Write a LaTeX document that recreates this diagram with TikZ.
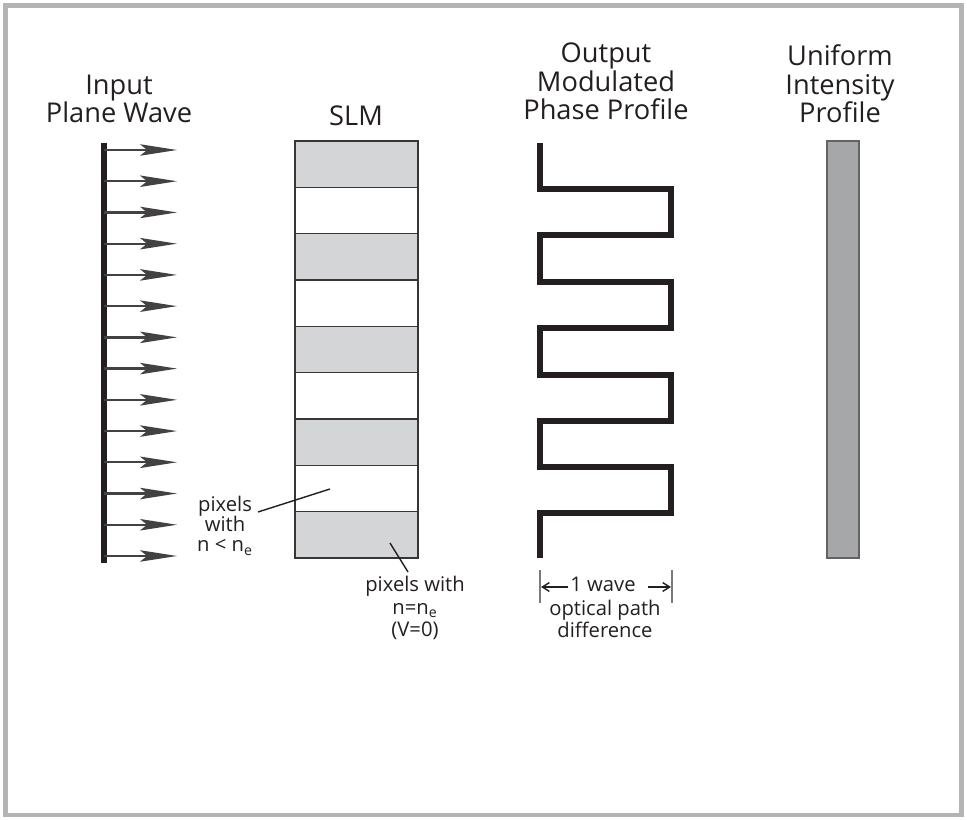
\documentclass[tikz,border=0pt]{standalone}
\usepackage{fontspec}
\setmainfont{Open Sans}
\usetikzlibrary{arrows.meta}

\definecolor{framegray}{HTML}{B4B3B5}
\definecolor{slmgray}{HTML}{D4D5D7}
\definecolor{bargray}{HTML}{A6A7A9}
\definecolor{ink}{HTML}{231F20}

\tikzset{
  title/.style={align=center,anchor=base,inner sep=0pt,text=ink,
    font=\fontsize{15.5}{16.3}\selectfont},
  note/.style={align=center,anchor=base,inner sep=0pt,text=ink,
    font=\fontsize{11.5}{11.5}\selectfont},
  ray/.style={draw=ink!85,line width=1.3pt,
    -{Stealth[length=21pt,width=6.5pt,inset=4pt]}},
  cell/.style={draw=ink!90,line width=0.9pt},
  wave/.style={draw=ink,line width=3.2pt,line join=miter},
  leader/.style={draw=ink,line width=0.8pt},
  tick/.style={draw=ink!60,line width=1.1pt},
  dim/.style={draw=ink,line width=0.8pt,-{Straight Barb[length=4pt,width=5pt]}}
}

\begin{document}
\begin{tikzpicture}[x=0.02cm,y=-0.02cm]

      \useasboundingbox (0,0) rectangle (967,820);
      \draw[framegray,line width=2.8pt] (5.5,5.5) rectangle (961.5,815);

      % titles (anchored at the last line)
      \node[title] (input)   at (119,123) {Input\\Plane Wave};
      \node[title] (slm)     at (356,126) {SLM};
      \node[title] (output)  at (606,120) {Output\\Modulated\\Phase Profile};
      \node[title] (uniform) at (840,123) {Uniform\\Intensity\\Profile};

      % input plane wave
      \coordinate (bartop) at (104,143);
      \coordinate (barbot) at (104,563);
      \draw[ink,line width=3.2pt] (bartop) -- (barbot);
      \foreach \i in {0,...,13} {
        \coordinate (ray\i) at (104,150+31.23*\i);
        \coordinate (tip\i) at (177,150+31.23*\i);
        \draw[ray] (ray\i) -- (tip\i);
      }

      % SLM pixels
      \foreach \i in {0,...,8} {
        \pgfmathsetmacro{\ytop}{141+46.33*\i}
        \ifodd\i
          \draw[cell,fill=white] (295,\ytop) rectangle (418,\ytop+46.33);
        \else
          \draw[cell,fill=slmgray] (295,\ytop) rectangle (418,\ytop+46.33);
        \fi
      }

      % phase profile
      \draw[wave] (540,143) |- (671,189) |- (540,235) |- (671,282)
        |- (540,328) |- (671,375) |- (540,421) |- (671,467)
        |- (540,513) -- (540,558);

      % uniform intensity
      \draw[draw=ink!70,line width=1.2pt,fill=bargray] (827,141) rectangle (859,558);

      % labels
      \node[note] (pixlow) at (225,552) {pixels\\with\\n < n\textsubscript{e}};
      \coordinate (lowfoot) at (258,512);
      \coordinate (lowtip)  at (330,489);
      \draw[leader] (lowfoot) -- (lowtip);

      \node[note,font=\fontsize{11.5}{13}\selectfont] (pixeq) at (415,637)
        {pixels with\\n=n\textsubscript{e}\\(V=0)};
      \coordinate (eqtip)  at (390,543);
      \coordinate (eqfoot) at (408,572);
      \draw[leader] (eqfoot) -- (eqtip);

      % one wave path difference
      \coordinate (tickLt) at (540,570);
      \coordinate (tickLb) at (540,603);
      \coordinate (tickRt) at (672,570);
      \coordinate (tickRb) at (672,603);
      \draw[tick] (tickLt) -- (tickLb);
      \draw[tick] (tickRt) -- (tickRb);
      \node[note] (onewave) at (603,592) {1 wave};
      \coordinate (dimL) at (541,587);
      \coordinate (dimR) at (671,587);
      \draw[dim] ([xshift=-1pt]onewave.west |- dimL) -- (dimL);
      \draw[dim] ([xshift=7pt]onewave.east |- dimR) -- (dimR);
      \node[note,font=\fontsize{11.5}{13}\selectfont] (opd) at (605,638)
        {optical path\\difference};

\end{tikzpicture}
\end{document}
